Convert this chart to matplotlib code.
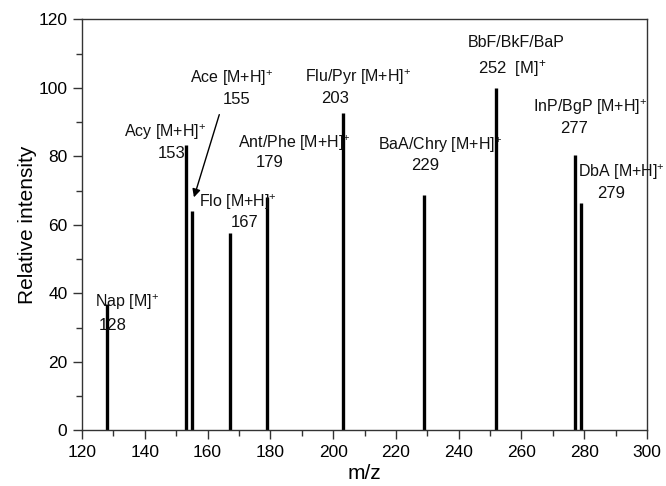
import matplotlib
matplotlib.use("Agg")
import matplotlib.pyplot as plt
from matplotlib.ticker import MultipleLocator

plt.rcParams['font.family'] = ['Liberation Sans', 'DejaVu Sans']
plt.rcParams['mathtext.fontset'] = 'custom'
plt.rcParams['mathtext.rm'] = 'Liberation Sans'
plt.rcParams['mathtext.it'] = 'Liberation Sans'
plt.rcParams['mathtext.bf'] = 'Liberation Sans'

mz = [128, 153, 155, 167, 179, 203, 229, 252, 277, 279]
intensity = [37, 83.4, 64.2, 57.7, 68.2, 92.8, 68.8, 100, 80.4, 66.4]

names = ["Nap [M]$^{+}$", "Acy [M+H]$^{+}$", "Ace [M+H]$^{+}$", "Flo [M+H]$^{+}$",
         "Ant/Phe [M+H]$^{+}$", "Flu/Pyr [M+H]$^{+}$", "BaA/Chry [M+H]$^{+}$",
         "BbF/BkF/BaP", "InP/BgP [M+H]$^{+}$", "DbA [M+H]$^{+}$"]
numbers = ["128", "153", "155", "167", "179", "203", "229", "252  [M]$^{+}$", "277", "279"]

# label positions (data coords)
name_xy = [(124.1, 37.5), (133.4, 87.2), (154.4, 102.9), (157.3, 66.7), (169.7, 83.9),
           (191.0, 103.2), (214.3, 83.4), (243.0, 113.4), (263.7, 94.5), (278.0, 75.5)]
num_xy = [(129.9, 30.8), (148.7, 81.0), (169.4, 96.5), (171.9, 60.6), (179.9, 78.1),
          (200.6, 96.8), (229.3, 77.5), (246.2, 105.8), (276.7, 88.3), (288.5, 69.3)]

fig = plt.figure(figsize=(6.66, 4.86), dpi=100)
ax = fig.add_axes([0.1231, 0.1142, 0.8484, 0.8457])

ax.vlines(mz, 0, intensity, colors='black', linewidth=2.4)

for i in range(len(mz)):
    ax.text(name_xy[i][0], name_xy[i][1], names[i], ha='left', va='center', fontsize=11.5, color='#111111')
    if i == 7:
        ax.text(num_xy[i][0], num_xy[i][1], numbers[i], ha='left', va='center', fontsize=12, color='#111111')
    else:
        ax.text(num_xy[i][0], num_xy[i][1], numbers[i], ha='center', va='center', fontsize=12, color='#111111')

ax.annotate("", xy=(155.4, 67.3), xytext=(164.0, 93.0),
            arrowprops=dict(arrowstyle='-|>', color='black', lw=1.0, mutation_scale=12))

ax.set_xlim(120, 300)
ax.set_ylim(0, 120)
ax.xaxis.set_major_locator(MultipleLocator(20))
ax.xaxis.set_minor_locator(MultipleLocator(10))
ax.yaxis.set_major_locator(MultipleLocator(20))
ax.yaxis.set_minor_locator(MultipleLocator(10))
ax.tick_params(which='both', direction='out', top=False, right=False, color='#333333')
ax.tick_params(which='major', length=6.5, width=1, labelsize=12.5, pad=4)
ax.tick_params(which='minor', length=4, width=1)
for s in ax.spines.values():
    s.set_color('#333333')
    s.set_linewidth(1)

ax.set_xlabel("m/z", fontsize=15, labelpad=3)
ax.set_ylabel("Relative intensity", fontsize=15, labelpad=1)

fig.savefig("out.png", dpi=100)
